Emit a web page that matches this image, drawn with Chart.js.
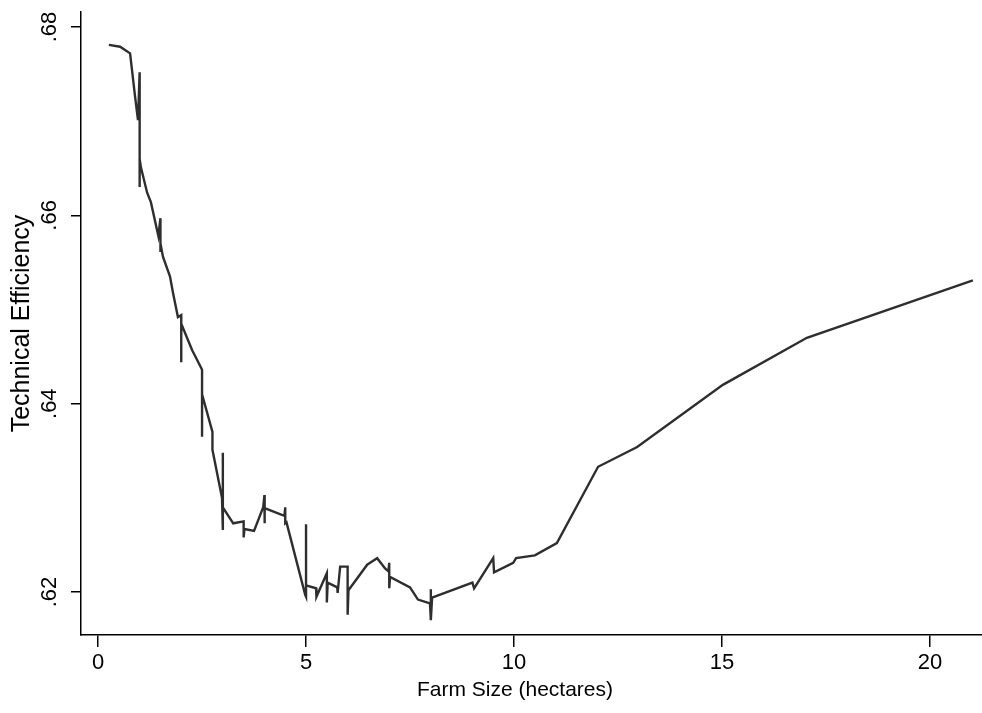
<!DOCTYPE html>
<html lang="en">
<head>
    <meta charset="UTF-8">
    <title>Technical Efficiency by Farm Size</title>
    <script src="https://cdn.jsdelivr.net/npm/chart.js"></script>
    <style>
        body { margin: 0; background: #fff; }
        #wrap { width: 982px; height: 713px; }
    </style>
</head>
<body>
    <div id="wrap"><canvas id="myChart"></canvas></div>
    <script>
        // farm size (hectares), in plotting order (ties at the same size give the spikes)
        const farmSize = [
            0.26, 0.53, 0.77, 0.89, 0.96, 1.0, 1.0, 1.0, 1.03, 1.18,
            1.27, 1.45, 1.5, 1.5, 1.5, 1.56, 1.73, 1.80, 1.92, 2.0,
            2.0, 2.0, 2.26, 2.48, 2.5, 2.5, 2.5, 2.75, 2.75, 2.98,
            3.0, 3.0, 3.0, 3.25, 3.5, 3.5, 3.52, 3.75, 3.97, 4.0,
            4.0, 4.01, 4.48, 4.5, 4.5, 4.53, 4.98, 5.0, 5.0, 5.0,
            5.24, 5.25, 5.5, 5.5, 5.52, 5.75, 5.76, 5.82, 5.94, 6.0,
            6.0, 6.02, 6.47, 6.54, 6.71, 6.9, 6.98, 7.0, 7.0, 7.02,
            7.5, 7.69, 7.98, 8.0, 8.0, 8.03, 9.0, 9.04, 9.5, 9.52,
            9.98, 10.05, 10.5, 11.03, 12.02, 12.96, 15.02, 17.04, 21.03
        ];
        const techEff = [
            0.6781, 0.6779, 0.6772, 0.6726, 0.6701, 0.6752, 0.6630, 0.6660, 0.6651, 0.6624,
            0.6614, 0.6578, 0.6597, 0.6561, 0.6570, 0.6556, 0.6535, 0.6518, 0.6492, 0.6494,
            0.6444, 0.6485, 0.6457, 0.6438, 0.6436, 0.6365, 0.6410, 0.6370, 0.6351, 0.6300,
            0.6348, 0.6266, 0.6290, 0.6273, 0.6275, 0.6258, 0.6267, 0.6265, 0.6290, 0.6303,
            0.6273, 0.6289, 0.6281, 0.6290, 0.6273, 0.6274, 0.6197, 0.6195, 0.6272, 0.6207,
            0.6204, 0.6195, 0.6220, 0.6189, 0.6210, 0.6205, 0.6199, 0.6227, 0.6227, 0.6227,
            0.6176, 0.6202, 0.6229, 0.6231, 0.6236, 0.6225, 0.6222, 0.6231, 0.6204, 0.6216,
            0.6205, 0.6192, 0.6188, 0.6203, 0.6170, 0.6194, 0.6210, 0.6204, 0.6236, 0.6221,
            0.6231, 0.6236, 0.6239, 0.6252, 0.6333, 0.6354, 0.6420, 0.6470, 0.6531
        ];
        const xTickValues = [0, 5, 10, 15, 20];
        const yTickValues = [0.62, 0.64, 0.66, 0.68];
        const yTickLabels = [".62", ".64", ".66", ".68"];
        const xTitle = 'Farm Size (hectares)';

        const FONT = '"Liberation Sans", Arial, Helvetica, sans-serif';
        Chart.defaults.font.family = FONT;
        Chart.defaults.color = '#000';

        // Stata-style vertical y tick labels, and the x title centred like Stata does
        const stataText = {
            id: 'stataText',
            afterDraw(chart) {
                const ctx = chart.ctx;
                const y = chart.scales.y;
                ctx.save();
                ctx.font = '22px ' + FONT;
                ctx.fillStyle = '#000';
                ctx.textAlign = 'center';
                ctx.textBaseline = 'middle';
                yTickValues.forEach((v, i) => {
                    ctx.save();
                    ctx.translate(50, y.getPixelForValue(v));
                    ctx.rotate(-Math.PI / 2);
                    ctx.fillText(yTickLabels[i], 0, 0);
                    ctx.restore();
                });
                ctx.font = '21px ' + FONT;
                ctx.fillText(xTitle, 515, 690);
                ctx.restore();
            }
        };

        const points = farmSize.map((x, i) => ({ x: x, y: techEff[i] }));

        new Chart(document.getElementById('myChart'), {
            type: 'line',
            data: {
                datasets: [{
                    label: 'Technical Efficiency',
                    data: points,
                    borderColor: '#2e2e2e',
                    borderWidth: 2.4,
                    pointRadius: 0,
                    tension: 0,
                    fill: false
                }]
            },
            options: {
                responsive: true,
                maintainAspectRatio: false,
                animation: false,
                layout: { padding: { top: 12, right: 0, bottom: 0, left: 0 } },
                plugins: {
                    legend: { display: false },
                    tooltip: { enabled: false }
                },
                scales: {
                    x: {
                        type: 'linear',
                        min: -0.41,
                        max: 21.25,
                        afterBuildTicks: (s) => { s.ticks = xTickValues.map(v => ({ value: v })); },
                        afterFit: (s) => { s.height = 78; },
                        ticks: { font: { size: 22 }, padding: 3, maxRotation: 0, color: '#000' },
                        grid: { drawOnChartArea: false, drawTicks: true, tickLength: 12, color: '#000', lineWidth: 1.5 },
                        border: { display: true, color: '#000', width: 1.5 },
                        title: { display: false }
                    },
                    y: {
                        type: 'linear',
                        min: 0.61544,
                        max: 0.68159,
                        afterBuildTicks: (s) => { s.ticks = yTickValues.map(v => ({ value: v })); },
                        afterFit: (s) => { s.width = 81; },
                        ticks: { display: false },
                        grid: { drawOnChartArea: false, drawTicks: true, tickLength: 10, color: '#000', lineWidth: 1.5 },
                        border: { display: true, color: '#000', width: 1.5 },
                        title: { display: true, text: 'Technical Efficiency', font: { size: 25 }, color: '#000', padding: { top: 7, bottom: 0 } }
                    }
                }
            },
            plugins: [stataText]
        });
    </script>
</body>
</html>
